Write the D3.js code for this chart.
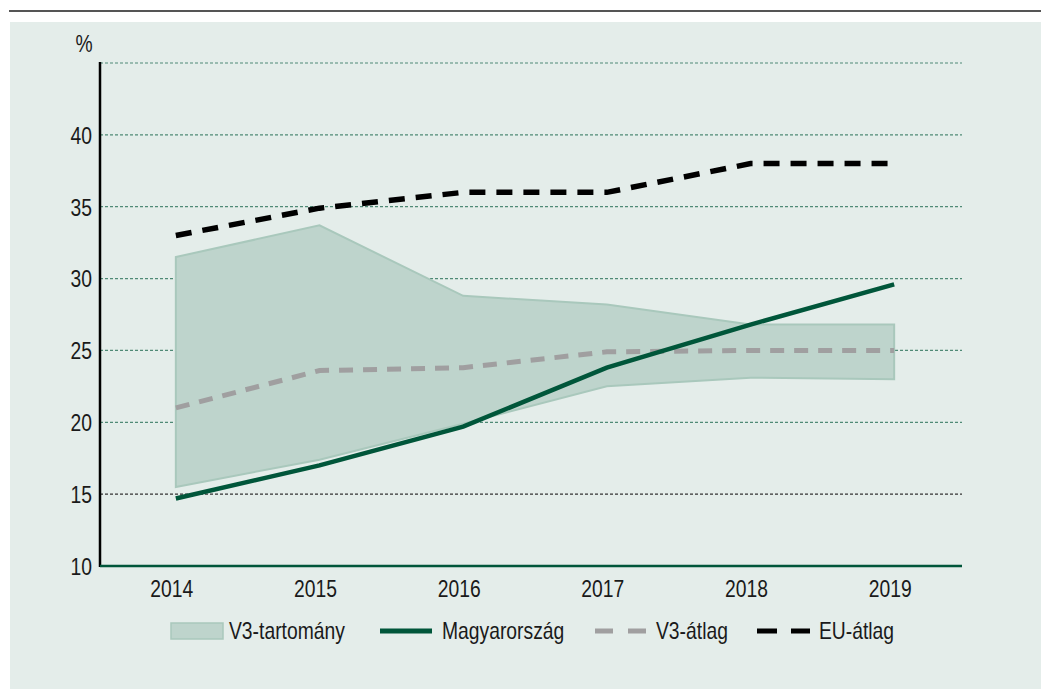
<!DOCTYPE html>
<html>
<head>
<meta charset="utf-8">
<script src="https://cdn.jsdelivr.net/npm/d3@7"></script>
<style>
  body { margin: 0; background: #fff; }
  svg text { font-family: "Liberation Sans", Arial, sans-serif; fill: #1a1a1a; }
</style>
</head>
<body>
<svg id="chart" width="1041" height="689"></svg>
<script>
/*global d3
 */
const years = ["2014", "2015", "2016", "2017", "2018", "2019"];
const yTicks = [10, 15, 20, 25, 30, 35, 40];
const v3Upper = [31.5, 33.7, 28.8, 28.2, 26.8, 26.8];
const v3Lower = [15.5, 17.4, 19.9, 22.5, 23.1, 23.0];
const hungary = [14.7, 17.0, 19.7, 23.8, 26.8, 29.6];
const v3Avg = [21.0, 23.6, 23.8, 24.9, 25.0, 25.0];
const euAvg = [33.0, 34.9, 36.0, 36.0, 38.0, 38.0];
const legendLabels = ["V3-tartomány", "Magyarország", "V3-átlag", "EU-átlag"];

const fontSize = 23;
const squeeze = "scale(0.84,1)";

const svg = d3.select("#chart");

// background panel and top rule
svg.append("rect")
  .attr("x", 10).attr("y", 22)
  .attr("width", 1031).attr("height", 667)
  .attr("fill", "#e4edea");
svg.append("rect")
  .attr("x", 9).attr("y", 10)
  .attr("width", 1032).attr("height", 2)
  .attr("fill", "#555");

const plotLeft = 100, plotRight = 962, plotTop = 63, plotBottom = 566;

const x = d3.scaleBand().domain(years).range([plotLeft, plotRight]);
const y = d3.scaleLinear().domain([10, 45]).range([plotBottom, plotTop]);
const cx = d => x(d) + x.bandwidth() / 2 + 4;

// gridlines
const gridVals = [15, 20, 25, 30, 35, 40, 45];
svg.append("g").selectAll("line")
  .data(gridVals)
  .join("line")
  .attr("x1", plotLeft).attr("x2", plotRight)
  .attr("y1", d => y(d)).attr("y2", d => y(d))
  .attr("stroke", d => d === 15 ? "#333" : "#4f8a76")
  .attr("stroke-width", 1.2)
  .attr("stroke-dasharray", "3,2");

// range band
const band = years.map((yr, i) => ({yr: yr, lo: v3Lower[i], hi: v3Upper[i]}));
svg.append("path")
  .datum(band)
  .attr("d", d3.area().x(d => cx(d.yr)).y0(d => y(d.lo)).y1(d => y(d.hi)))
  .attr("fill", "#bed4cc")
  .attr("stroke", "#a9c8bc")
  .attr("stroke-width", 2);

function drawLine(values, color, width, dash) {
  const pts = years.map((yr, i) => [cx(yr), y(values[i])]);
  const p = svg.append("path")
    .datum(pts)
    .attr("d", d3.line())
    .attr("fill", "none")
    .attr("stroke", color)
    .attr("stroke-width", width);
  if (dash) p.attr("stroke-dasharray", dash);
}

drawLine(v3Avg, "#a09fa0", 5, "14,10");
drawLine(hungary, "#00563a", 4.5, null);
drawLine(euAvg, "#000", 5.5, "16,11");

// axes
const yAxis = svg.append("g")
  .attr("transform", "translate(" + plotLeft + ",0)")
  .call(d3.axisLeft(y).tickValues(yTicks).tickSize(0).tickPadding(0));
yAxis.select(".domain").remove();
yAxis.selectAll("text")
  .attr("font-size", fontSize).attr("fill", "#1a1a1a")
  .attr("x", 0).attr("dy", "0.36em")
  .attr("transform", "translate(-8,0) " + squeeze);

svg.append("line")
  .attr("x1", plotLeft).attr("x2", plotLeft)
  .attr("y1", plotTop - 1).attr("y2", plotBottom + 1)
  .attr("stroke", "#000").attr("stroke-width", 2.5);

const xAxis = svg.append("g")
  .attr("transform", "translate(0," + plotBottom + ")")
  .call(d3.axisBottom(x).tickSize(0).tickPadding(15));
xAxis.select(".domain").remove();
xAxis.selectAll("text")
  .attr("font-size", fontSize).attr("fill", "#1a1a1a")
  .attr("transform", squeeze);

svg.append("line")
  .attr("x1", plotLeft).attr("x2", plotRight)
  .attr("y1", plotBottom).attr("y2", plotBottom)
  .attr("stroke", "#00563a").attr("stroke-width", 2.5);

svg.append("text")
  .attr("transform", "translate(84,52) " + squeeze)
  .attr("text-anchor", "middle")
  .attr("font-size", fontSize)
  .text("%");

// legend
const ly = 631;
const legend = svg.append("g");
legend.append("rect")
  .attr("x", 171).attr("y", ly - 8)
  .attr("width", 52).attr("height", 16)
  .attr("fill", "#bed4cc").attr("stroke", "#a9c8bc").attr("stroke-width", 1.5);
legend.append("line")
  .attr("x1", 380).attr("x2", 432).attr("y1", ly).attr("y2", ly)
  .attr("stroke", "#00563a").attr("stroke-width", 5);
legend.append("line")
  .attr("x1", 595).attr("x2", 648).attr("y1", ly).attr("y2", ly)
  .attr("stroke", "#a09fa0").attr("stroke-width", 5).attr("stroke-dasharray", "18,15");
legend.append("line")
  .attr("x1", 757).attr("x2", 810).attr("y1", ly).attr("y2", ly)
  .attr("stroke", "#000").attr("stroke-width", 5).attr("stroke-dasharray", "20,14");

const legendX = [229, 442, 656, 819];
legend.selectAll("text.lbl")
  .data(legendLabels)
  .join("text")
  .attr("class", "lbl")
  .attr("transform", (d, i) => "translate(" + legendX[i] + "," + (ly + 8) + ") " + squeeze)
  .attr("font-size", fontSize)
  .text(d => d);
</script>
</body>
</html>
